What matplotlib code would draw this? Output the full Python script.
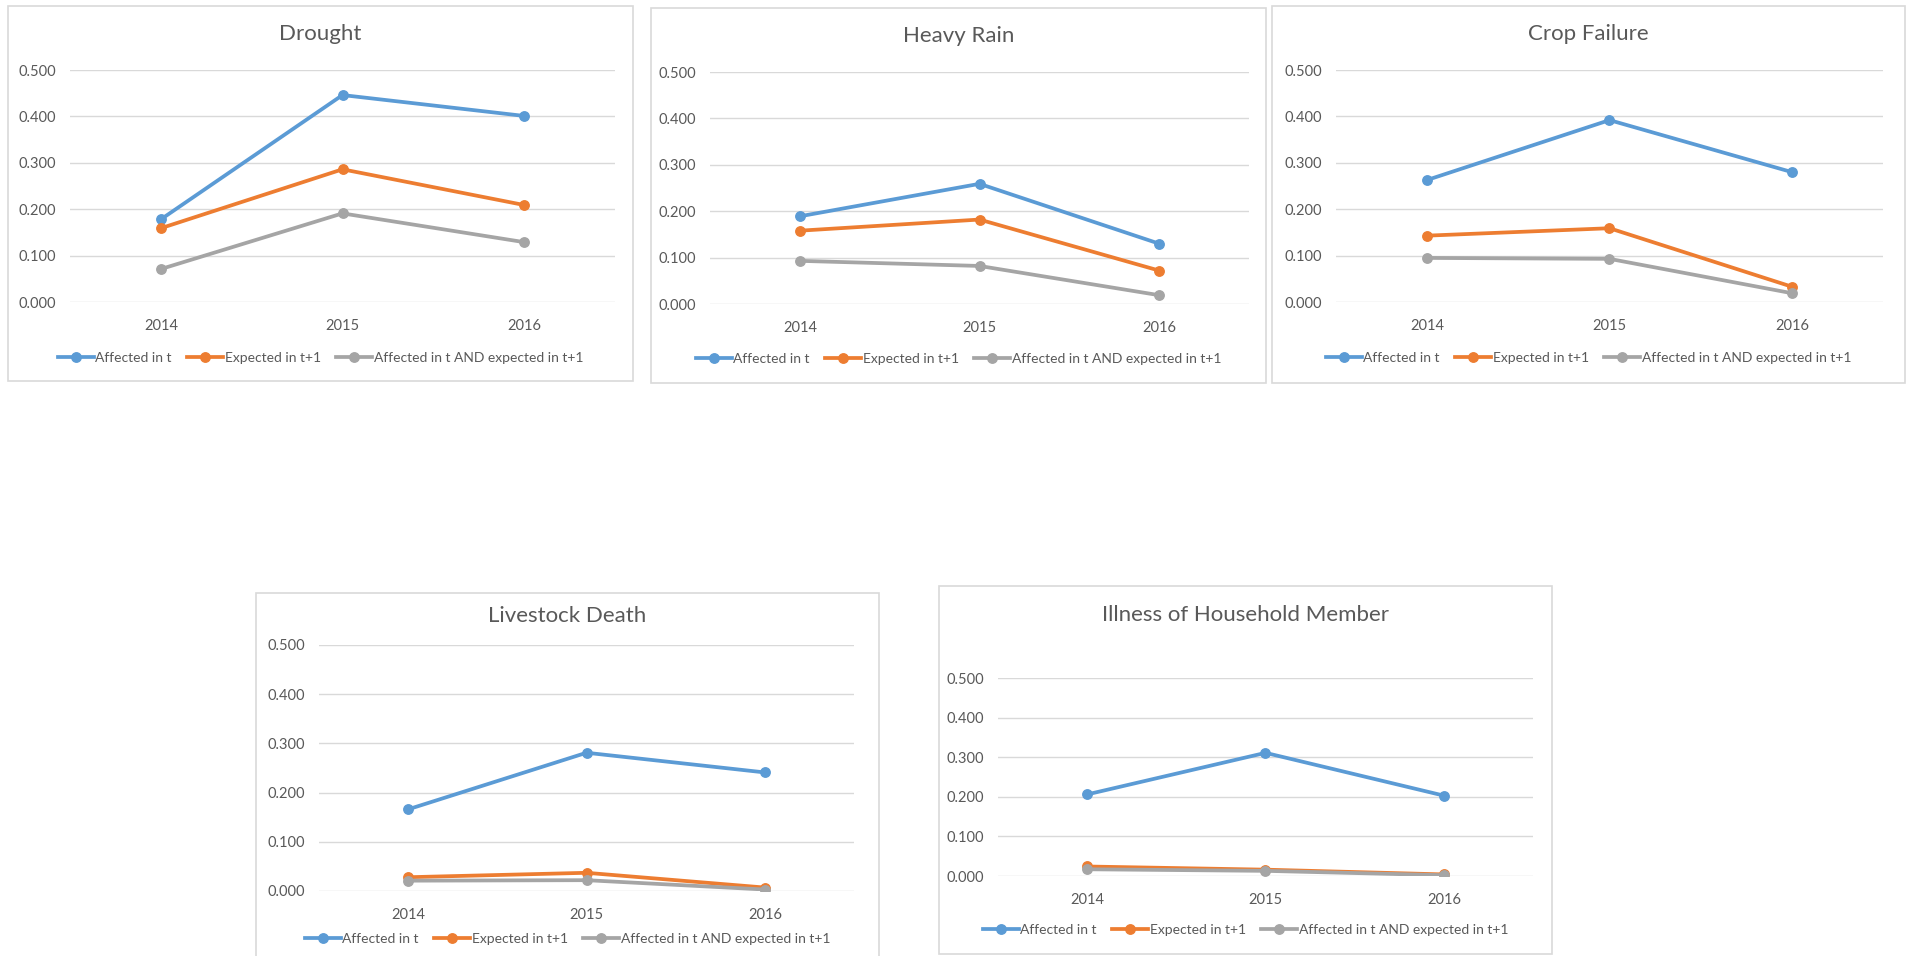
import matplotlib.pyplot as plt
from matplotlib.patches import Rectangle
from matplotlib.lines import Line2D

plt.rcParams['font.family'] = ['Lato', 'DejaVu Sans']

W, H = 1909, 956

YEARS = ['2014', '2015', '2016']
SERIES_NAMES = ['Affected in t', 'Expected in t+1', 'Affected in t AND expected in t+1']
SERIES_COLORS = ['#5B9BD5', '#ED7D31', '#A5A5A5']

TITLES = ['Drought', 'Heavy Rain', 'Crop Failure', 'Livestock Death',
          'Illness of Household Member']

drought_affected = [0.178, 0.446, 0.401]
drought_expected = [0.159, 0.286, 0.209]
drought_both = [0.071, 0.191, 0.129]

rain_affected = [0.189, 0.259, 0.130]
rain_expected = [0.158, 0.182, 0.072]
rain_both = [0.093, 0.082, 0.019]

crop_affected = [0.263, 0.392, 0.280]
crop_expected = [0.143, 0.159, 0.033]
crop_both = [0.095, 0.093, 0.019]

livestock_affected = [0.166, 0.281, 0.241]
livestock_expected = [0.028, 0.037, 0.007]
livestock_both = [0.021, 0.022, 0.003]

illness_affected = [0.206, 0.311, 0.203]
illness_expected = [0.024, 0.016, 0.004]
illness_both = [0.017, 0.013, 0.002]

PANEL_DATA = [
    (drought_affected, drought_expected, drought_both),
    (rain_affected, rain_expected, rain_both),
    (crop_affected, crop_expected, crop_both),
    (livestock_affected, livestock_expected, livestock_both),
    (illness_affected, illness_expected, illness_both),
]

# pixel layout: frame box, plot box, title y, legend y
LAYOUT = [
    ((8, 6, 633, 381), (70, 70, 615, 302), 34, 358),
    ((651, 8, 1266, 383), (710, 72, 1249, 304), 36, 359),
    ((1272, 6, 1905, 383), (1336, 70, 1883, 302), 34, 358),
    ((256, 593, 879, 975), (319, 645, 854, 891), 616, 939),
    ((939, 586, 1552, 954), (998, 678, 1533, 876), 615, 930),
]

TEXT = '#595959'
GRID = '#D9D9D9'


def fig_rect(x0, y0, x1, y1):
    return [x0 / W, 1 - y1 / H, (x1 - x0) / W, (y1 - y0) / H]


fig = plt.figure(figsize=(W / 100, H / 100), dpi=100)
fig.patch.set_facecolor('white')

for title, data, (frame, box, ty, ly) in zip(TITLES, PANEL_DATA, LAYOUT):
    fx0, fy0, fx1, fy1 = frame
    fig.add_artist(Rectangle((fx0 / W, 1 - fy1 / H), (fx1 - fx0) / W, (fy1 - fy0) / H,
                             transform=fig.transFigure, fill=False,
                             edgecolor=GRID, linewidth=1.2))

    ax = fig.add_axes(fig_rect(*box))
    x = range(len(YEARS))
    for vals, color in zip(data, SERIES_COLORS):
        ax.plot(x, vals, color=color, linewidth=2.7, marker='o', markersize=6.8,
                solid_capstyle='round', zorder=3)

    ax.set_xlim(-0.5, 2.5)
    ax.set_ylim(0, 0.5)
    ax.set_yticks([0, 0.1, 0.2, 0.3, 0.4, 0.5])
    ax.set_yticklabels([f'{v:.3f}' for v in [0, 0.1, 0.2, 0.3, 0.4, 0.5]])
    ax.set_xticks(list(x))
    ax.set_xticklabels(YEARS)
    ax.tick_params(length=0, colors=TEXT, labelsize=10.5)
    ax.tick_params(axis='x', pad=12)
    ax.tick_params(axis='y', pad=10)
    ax.grid(axis='y', color=GRID, linewidth=1.0, zorder=0)
    for s in ax.spines.values():
        s.set_visible(False)
    ax.set_facecolor('none')

    cx = (fx0 + fx1) / 2
    fig.text(cx / W, 1 - ty / H, title, ha='center', va='center',
             fontsize=16, color=TEXT)

    handles = [Line2D([], [], color=c, linewidth=2.7, marker='o', markersize=6.8)
               for c in SERIES_COLORS]
    fig.legend(handles, SERIES_NAMES, loc='center', bbox_to_anchor=(cx / W, 1 - ly / H),
               ncol=3, frameon=False, fontsize=10, handlelength=2.6,
               handletextpad=0.1, columnspacing=1.1, labelcolor=TEXT)

fig.savefig('out.png', dpi=100, facecolor='white')
